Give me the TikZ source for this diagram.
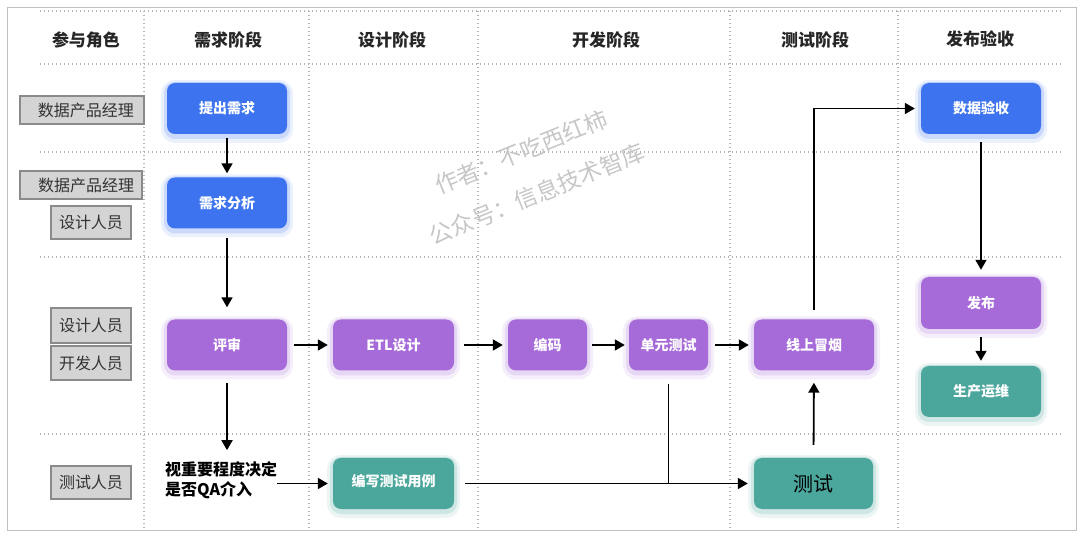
\documentclass[tikz,border=0pt]{standalone}
\usepackage{fontspec}
\setmainfont{Noto Sans CJK SC}
\usetikzlibrary{arrows.meta}
\definecolor{cblue}{HTML}{3D73EE}
\definecolor{cpurple}{HTML}{A66BD8}
\definecolor{cteal}{HTML}{4BA69C}
\definecolor{gridc}{HTML}{B4B4B4}
\definecolor{lblfill}{HTML}{D4D4D4}
\definecolor{lbldraw}{HTML}{8A8A8A}
\begin{document}
\begin{tikzpicture}[x=1pt,y=-1pt,
  grid/.style={gridc, line width=1.1pt, dash pattern=on 1.2pt off 2.8pt},
  hdr/.style={font=\fontsize{17}{19}\selectfont\bfseries, text=black!85},
  role/.style={fill=lblfill, draw=lbldraw, line width=1.3pt, font=\fontsize{16}{18}\selectfont, text=black!80, inner sep=0pt},
  box/.style={rounded corners=8pt, minimum height=51pt, inner sep=0pt, text=white,
    font=\fontsize{14}{16}\selectfont\bfseries, fill=#1,
    preaction={draw=#1, draw opacity=0.10, line width=12pt, transform canvas={yshift=-3pt}},
    preaction={draw=#1, draw opacity=0.18, line width=6pt, transform canvas={yshift=-2pt}}},
  arr/.style={-{Triangle[length=10pt,width=11pt]}, line width=1.8pt, black},
  ln/.style={line width=1.8pt, black},
  wm/.style={text=black!22, font=\fontsize{23}{25}\selectfont, rotate=22}
]
\fill[white] (0,0) rectangle (1080,537);
\useasboundingbox (0,0) rectangle (1080,537);
\draw[black!25, line width=1pt] (7,8) rectangle (1076,530);
% grid
\foreach \yy in {11,64,152,257,434} \draw[grid] (40,\yy) -- (1062,\yy);
\foreach \xx in {144,309,478,730,898} \draw[grid] (\xx,11) -- (\xx,530);
% headers
\node[hdr] (h1) at (86,40) {参与角色};
\node[hdr] (h2) at (228,40) {需求阶段};
\node[hdr] (h3) at (392,40) {设计阶段};
\node[hdr] (h4) at (606,40) {开发阶段};
\node[hdr] (h5) at (815,40) {测试阶段};
\node[hdr] (h6) at (980,39) {发布验收};
% watermark
\node[wm] (wm1) at (521,152) {作者：不吃西红柿};
\node[wm] (wm2) at (537,194) {公众号：信息技术智库};
% roles
\node[role, minimum width=124pt, minimum height=28pt] (r1) at (82,110) {\hspace{8pt}数据产品经理};
\node[role, minimum width=122pt, minimum height=28pt] (r2) at (81,185) {\hspace{10pt}数据产品经理};
\node[role, minimum width=80pt, minimum height=33pt] (r3) at (91,222.5) {设计人员};
\node[role, minimum width=80pt, minimum height=35pt] (r4) at (91,325.5) {设计人员};
\node[role, minimum width=80pt, minimum height=34pt] (r5) at (91,363) {开发人员};
\node[role, minimum width=80pt, minimum height=33pt] (r6) at (91,482.5) {测试人员};
% process nodes
\node[box=cblue, minimum width=120pt] (n1) at (227,108.5) {提出需求};
\node[box=cblue, minimum width=120pt] (n2) at (227,203) {需求分析};
\node[box=cpurple, minimum width=120pt] (ps) at (227,345) {评审};
\node[box=cpurple, minimum width=121pt] (etl) at (393.5,345) {ETL设计};
\node[box=cpurple, minimum width=79pt] (code) at (547.5,345) {编码};
\node[box=cpurple, minimum width=79pt] (ut) at (668.5,345) {单元测试};
\node[box=cpurple, minimum width=120pt] (smoke) at (814,345) {线上冒烟};
\node[box=cblue, minimum width=120pt] (acc) at (981,108.5) {数据验收};
\node[box=cpurple, minimum width=120pt, minimum height=52pt] (rel) at (981,303) {发布};
\node[box=cteal, minimum width=120pt] (ops) at (981,391.5) {生产运维};
\node[box=cteal, minimum width=121pt] (cs) at (393.5,483.5) {\raisebox{6pt}{编写测试用例}};
\node[box=cteal, minimum width=119pt, text=black, font=\fontsize{20}{22}\selectfont] (test) at (813.5,483.5) {测试};
\node[anchor=west, align=left, font=\fontsize{16}{20}\selectfont\bfseries, inner sep=0pt] (qa) at (165,480) {视重要程度决定\\是否QA介入};
% connectors
\draw[arr, shorten <=4pt, shorten >=4pt] (n1) -- (n2);
\draw[arr, shorten <=9pt, shorten >=12pt] (n2) -- (ps);
\draw[arr, shorten <=12pt, shorten >=11pt] (ps.south) -- (ps.south |- qa.north);
\draw[arr, shorten <=7pt, shorten >=5pt] (ps) -- (etl);
\draw[arr, shorten <=10pt, shorten >=5pt] (etl) -- (code);
\draw[arr, shorten <=5pt, shorten >=4pt] (code) -- (ut);
\draw[arr, shorten <=7pt, shorten >=5pt] (ut) -- (smoke);
\draw[arr, shorten >=5pt] (qa.east |- cs.west) -- (cs.west);
\draw[arr, shorten <=11pt, shorten >=6pt] (cs.east) -- (test.west);
\draw[ln, shorten <=13pt] (ut.south) -- (ut.south |- cs.east);
\draw[arr, shorten <=13pt, shorten >=12pt] (test.north) -- (smoke.south);
\draw[arr, shorten <=9pt, shorten >=6pt] (smoke.north) |- (acc.west);
\draw[arr, shorten <=8pt, shorten >=7pt] (acc.south) -- (rel.north);
\draw[arr, shorten <=8pt, shorten >=5pt] (rel.south) -- (ops.north);
\end{tikzpicture}
\end{document}
